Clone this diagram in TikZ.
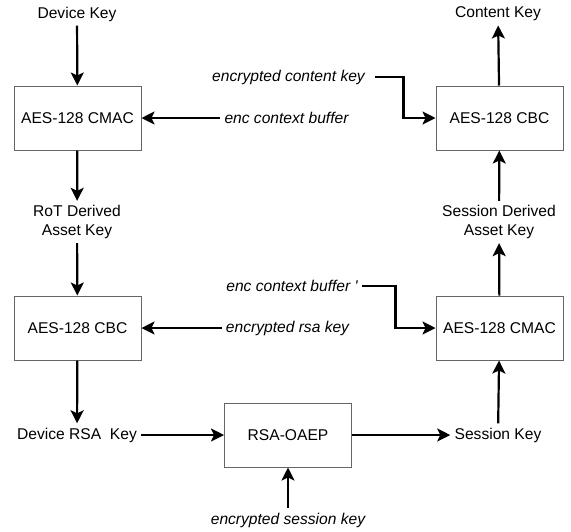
\documentclass[tikz,border=0pt]{standalone}
\usepackage{fontspec}
\setmainfont{Liberation Sans}
\usetikzlibrary{arrows.meta}

\begin{document}
\begin{tikzpicture}[
				x=0.5pt, y=-0.5pt,
				>={Stealth[length=6.5pt, width=6.5pt, inset=1.5pt]},
				every node/.style={font=\fontsize{7.8}{9.5}\selectfont, inner sep=2pt},
				block/.style={draw=black!60, line width=0.5pt, minimum width=63.5pt, minimum height=32pt},
				keytext/.style={align=center},
				inlabel/.style={font=\fontsize{7.8}{9.5}\selectfont\itshape},
				flow/.style={->, line width=1.1pt}
				]
				
				\useasboundingbox (0,0) rectangle (571,531);
				
				% left column
				\node[keytext] (devkey) at (77,14) {Device Key};
				\node[block] (cmacL) at (77.5,118) {AES-128 CMAC};
				\node[keytext] (rotkey) at (77,222) {RoT Derived\\Asset Key};
				\node[block] (cbcL) at (77.5,328) {AES-128 CBC};
				\node[keytext] (rsakey) at (77,435) {Device RSA\ \ Key};
				
				% bottom middle
				\node[block] (oaep) at (288,435) {RSA-OAEP};
				\node[inlabel] (encsess) at (288,520) {encrypted session key};
				
				% right column
				\node[keytext] (sesskey) at (498,435) {Session Key};
				\node[block] (cmacR) at (499.5,328) {AES-128 CMAC};
				\node[keytext] (sdkey) at (499,222) {Session Derived\\Asset Key};
				\node[block] (cbcR) at (499.5,118) {AES-128 CBC};
				\node[keytext] (contkey) at (498,14) {Content Key};
				
				% inputs in the middle
				\node[inlabel] (enccont) at (288.5,77) {encrypted content key};
				\node[inlabel] (ctxbuf) at (286.5,118) {enc context buffer};
				\node[inlabel] (ctxbufb) at (292,286) {enc context buffer \textquotesingle};
				\node[inlabel] (encrsa) at (287.5,328) {encrypted rsa key};
				
				\draw[flow] (devkey) -- (cmacL);
				\draw[flow] (cmacL) -- (rotkey);
				\draw[flow] (rotkey) -- (cbcL);
				\draw[flow] (cbcL) -- (rsakey);
				\draw[flow] (rsakey) -- (oaep);
				\draw[flow] (encsess) -- (oaep);
				\draw[flow] (oaep) -- (sesskey);
				\draw[flow] (sesskey) -- (cmacR);
				\draw[flow] (cmacR) -- (sdkey);
				\draw[flow] (sdkey) -- (cbcR);
				\draw[flow] (cbcR) -- (contkey);
				
				\draw[flow] (ctxbuf) -- (cmacL);
				\draw[flow] (encrsa) -- (cbcL);
				\draw[flow, shorten <=3pt] (enccont.east) -| ([xshift=-16pt]cbcR.west) -- (cbcR.west);
				\draw[flow] (ctxbufb.east) -| ([xshift=-20pt]cmacR.west) -- (cmacR.west);
				
			\end{tikzpicture}
\end{document}
